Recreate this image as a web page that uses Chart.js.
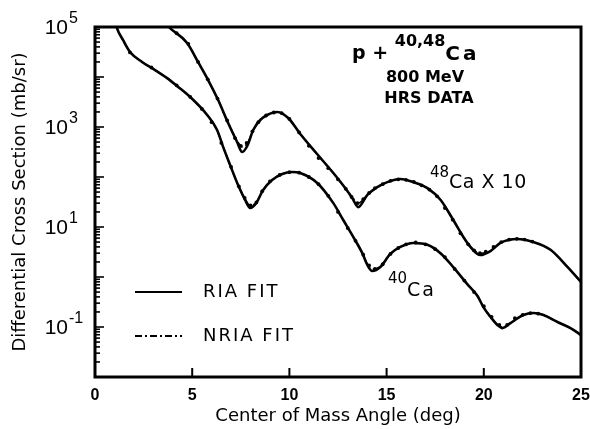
<!DOCTYPE html>
<html><head><meta charset="utf-8">
<script src="https://cdn.jsdelivr.net/npm/chart.js@4.4.0/dist/chart.umd.min.js"></script>
<style>html,body{margin:0;padding:0;background:#fff;}canvas{display:block;}</style>
</head><body>
<canvas id="c" width="590" height="429"></canvas>
<script>
// ---- values (angle in deg, cross section in mb/sr) ----
const xTicks = [0, 5, 10, 15, 20, 25];
const yLabelExponents = [5, 3, 1, -1];

// 48Ca x 10 fits
const angle48 = [3.3, 3.86, 4.74, 5.30, 5.82, 6.33, 6.85, 7.31, 7.57, 7.83, 8.14, 8.50, 8.86, 9.37, 9.94, 10.56, 11.38, 12.26, 12.87, 13.23, 13.54, 14.01, 14.52, 15.04, 15.71, 16.37, 17.10, 17.77, 18.43, 18.95, 19.31, 19.82, 20.34, 20.86, 21.73, 22.55, 23.43, 24.30, 25.0];
const ria48 = [1.6e5, 9.5e4, 4.8e4, 2.0e4, 8.7e3, 3.5e3, 1.2e3, 500, 316, 417, 870, 1380, 1740, 2000, 1510, 724, 302, 120, 60, 38, 25, 44, 63, 79, 91, 79, 60, 35, 13.8, 6.3, 4.0, 2.75, 3.3, 4.8, 5.75, 5.0, 3.5, 1.6, 0.8];
const nria48 = [1.6e5, 9.5e4, 4.8e4, 2.0e4, 8.7e3, 3.5e3, 1.2e3, 540, 400, 470, 870, 1380, 1740, 2000, 1510, 724, 302, 120, 60, 40, 30, 44, 63, 79, 91, 79, 60, 35, 13.8, 6.3, 4.1, 3.0, 3.3, 4.8, 5.75, 5.0, 3.5, 1.6, 0.8];

// 40Ca fits
const angle40 = [0.9, 1.13, 1.44, 1.80, 2.42, 2.94, 3.71, 4.22, 4.89, 5.77, 6.28, 6.59, 6.95, 7.36, 7.72, 7.98, 8.29, 8.65, 9.11, 9.63, 10.14, 10.56, 11.43, 12.26, 12.77, 13.29, 13.75, 14.01, 14.26, 14.68, 15.19, 15.71, 16.37, 17.10, 17.77, 18.43, 19.15, 19.67, 19.98, 20.34, 20.70, 20.96, 21.37, 22.04, 22.55, 23.07, 23.79, 24.46, 25.0];
const ria40 = [2.2e5, 9.5e4, 5.5e4, 3.16e4, 2.0e4, 1.5e4, 9.5e3, 6.6e3, 4.0e3, 1.74e3, 870, 400, 174, 69, 35, 24, 30, 55, 87, 115, 126, 120, 76, 30, 13.8, 6.3, 3.0, 1.74, 1.32, 1.58, 2.9, 4.0, 4.8, 4.4, 3.0, 1.58, 0.72, 0.42, 0.25, 0.16, 0.11, 0.095, 0.12, 0.174, 0.19, 0.174, 0.126, 0.095, 0.069];
const nria40 = [2.2e5, 9.5e4, 5.5e4, 3.16e4, 2.0e4, 1.5e4, 9.5e3, 6.6e3, 4.0e3, 1.74e3, 870, 400, 174, 69, 37, 27, 31, 55, 87, 115, 126, 120, 76, 30, 13.8, 6.3, 3.0, 1.8, 1.45, 1.62, 2.9, 4.0, 4.8, 4.4, 3.0, 1.58, 0.72, 0.42, 0.25, 0.16, 0.11, 0.10, 0.12, 0.174, 0.19, 0.174, 0.126, 0.095, 0.069];

// HRS data points
const dataAngle48 = [4.2, 4.8, 5.3, 5.8, 6.3, 6.8, 7.2, 7.5, 7.8, 8.1, 8.4, 8.8, 9.2, 9.6, 10.0, 10.5, 11.0, 11.5, 12.0, 12.5, 12.9, 13.2, 13.5, 13.8, 14.1, 14.4, 14.8, 15.2, 15.6, 16.0, 16.4, 16.8, 17.2, 17.6, 18.0, 18.4, 18.8, 19.2, 19.5, 19.8, 20.1, 20.5, 20.9, 21.3, 21.7, 22.1, 22.5];
const dataXs48 = [7.5e4, 4.6e4, 2.0e4, 9.0e3, 3.7e3, 1.35e3, 600, 420, 480, 820, 1250, 1700, 1950, 1900, 1450, 780, 420, 240, 150, 90, 58, 40, 30, 36, 48, 60, 72, 84, 90, 88, 80, 68, 56, 41, 24, 14, 7.5, 4.5, 3.4, 3.0, 3.2, 4.0, 5.0, 5.6, 5.8, 5.6, 5.1];
const dataAngle40 = [1.8, 2.9, 4.2, 4.9, 5.5, 6.0, 6.5, 7.0, 7.4, 7.7, 8.0, 8.3, 8.6, 9.0, 9.5, 10.0, 10.5, 11.0, 11.5, 12.0, 12.5, 13.0, 13.4, 13.8, 14.1, 14.4, 14.8, 15.2, 15.6, 16.0, 16.5, 17.0, 17.5, 18.0, 18.5, 19.0, 19.5, 20.0, 20.4, 20.8, 21.2, 21.6, 22.0, 22.4, 22.8];
const dataXs40 = [3.1e4, 1.55e4, 6.8e3, 4.0e3, 2.3e3, 1.25e3, 480, 160, 65, 38, 27, 31, 52, 82, 110, 125, 122, 100, 72, 42, 20, 9.5, 5.3, 2.8, 1.7, 1.45, 1.8, 2.9, 3.8, 4.5, 4.9, 4.5, 3.6, 2.5, 1.45, 0.85, 0.5, 0.26, 0.16, 0.11, 0.11, 0.15, 0.175, 0.19, 0.185];

const pts = (xs, ys) => xs.map((v, i) => ({x: v, y: ys[i]}));

const lineDs = (label, xs, ys, dash, width) => ({
  type: 'line', label, data: pts(xs, ys), borderColor: '#000', borderWidth: width,
  borderDash: dash, pointRadius: 0, fill: false, cubicInterpolationMode: 'monotone', clip: 0
});
const dotDs = (label, xs, ys) => ({
  type: 'scatter', label, data: pts(xs, ys), backgroundColor: '#000', borderColor: '#000',
  pointRadius: 1.9, borderWidth: 0, showLine: false, clip: 0
});

function runs(ctx, x, parts) {
  // parts: [text, font, baseline-middle y, letter spacing]
  for (const [t, f, dy, sp] of parts) {
    ctx.font = f; ctx.letterSpacing = (sp || 0) + 'px';
    ctx.fillText(t, x, dy);
    x += ctx.measureText(t).width;
  }
  ctx.letterSpacing = '0px';
}

const decor = {
  id: 'decor',
  beforeDraw(chart) {
    const c = chart.ctx; c.save(); c.fillStyle = '#fff'; c.fillRect(0, 0, chart.width, chart.height); c.restore();
  },
  afterDraw(chart) {
    const {ctx, chartArea: a, scales: {x, y}} = chart;
    ctx.save();
    ctx.strokeStyle = '#000'; ctx.fillStyle = '#000';
    // frame
    ctx.lineWidth = 3;
    ctx.strokeRect(a.left, a.top, a.right - a.left, a.bottom - a.top);
    // inward y ticks (log)
    ctx.lineWidth = 1.6;
    for (let e = -2; e < 5; e++) {
      for (let k = 1; k < 10; k++) {
        const py = y.getPixelForValue(k * Math.pow(10, e));
        const len = k === 1 ? 9 : 5;
        ctx.beginPath(); ctx.moveTo(a.left, py); ctx.lineTo(a.left + len, py); ctx.stroke();
      }
    }
    // inward x ticks
    ctx.lineWidth = 2;
    for (const v of xTicks) {
      if (v <= x.min || v >= x.max) continue;
      const px = x.getPixelForValue(v);
      ctx.beginPath(); ctx.moveTo(px, a.bottom); ctx.lineTo(px, a.bottom - 9); ctx.stroke();
    }
    // y tick labels 10^n
    ctx.textBaseline = 'middle';
    for (const e of yLabelExponents) {
      const py = y.getPixelForValue(Math.pow(10, e));
      ctx.font = '21px "Liberation Sans"'; ctx.textAlign = 'right';
      ctx.fillText('10', 68, py + 1);
      ctx.textAlign = 'left'; ctx.font = '16px "Liberation Sans"';
      ctx.fillText(e < 0 ? '-' + (-e) : String(e), 69, py - 8);
    }
    ctx.textAlign = 'left';
    // title block
    runs(ctx, 352, [['p + ', 'bold 19px "DejaVu Sans"', 54, 0], ['40,48', 'bold 16px "DejaVu Sans"', 42, 0], ['Ca', 'bold 20px "DejaVu Sans"', 55, 3]]);
    ctx.textAlign = 'center';
    ctx.font = 'bold 16px "DejaVu Sans"';
    ctx.fillText('800 MeV', 425, 78);
    ctx.fillText('HRS DATA', 429, 99);
    ctx.textAlign = 'left';
    // curve labels
    runs(ctx, 430, [['48', '15px "DejaVu Sans"', 173, 0], ['Ca X 10', '19px "DejaVu Sans"', 183, 0.5]]);
    runs(ctx, 388, [['40', '15px "DejaVu Sans"', 279, 0], ['Ca', '19px "DejaVu Sans"', 291, 2]]);
    // legend
    ctx.lineWidth = 1.8;
    ctx.beginPath(); ctx.moveTo(135, 292); ctx.lineTo(182, 292); ctx.stroke();
    ctx.setLineDash([7, 3, 2, 3]);
    ctx.beginPath(); ctx.moveTo(135, 336); ctx.lineTo(182, 336); ctx.stroke();
    ctx.setLineDash([]);
    runs(ctx, 203, [['RIA FIT', '18px "DejaVu Sans"', 292, 2]]);
    runs(ctx, 203, [['NRIA FIT', '18px "DejaVu Sans"', 336, 2]]);
    ctx.restore();
  }
};

new Chart(document.getElementById('c'), {
  type: 'line',
  data: {
    datasets: [
      dotDs('48Ca data', dataAngle48, dataXs48),
      dotDs('40Ca data', dataAngle40, dataXs40),
      lineDs('48Ca RIA FIT', angle48, ria48, [], 2.6),
      lineDs('48Ca NRIA FIT', angle48, nria48, [7, 3, 2, 3], 1.5),
      lineDs('40Ca RIA FIT', angle40, ria40, [], 2.6),
      lineDs('40Ca NRIA FIT', angle40, nria40, [7, 3, 2, 3], 1.5)
    ]
  },
  options: {
    responsive: false, animation: false, devicePixelRatio: 1,
    layout: {padding: {left: 0, top: 27, right: 0, bottom: 0}},
    plugins: {legend: {display: false}, tooltip: {enabled: false}},
    scales: {
      x: {
        type: 'linear', min: 0, max: 25,
        afterFit(s) { s.height = 52; s.paddingRight = 9; s.paddingLeft = 0; },
        afterBuildTicks(s) { s.ticks = xTicks.map(v => ({value: v})); },
        grid: {display: false, drawTicks: false},
        border: {display: false},
        ticks: {color: '#000', font: {family: 'Liberation Sans', size: 16, weight: 'bold'}, padding: 9, maxRotation: 0, autoSkip: false},
        title: {display: true, text: 'Center of Mass Angle (deg)', color: '#000', font: {family: 'DejaVu Sans', size: 18}, padding: {top: 0, bottom: 2}}
      },
      y: {
        type: 'logarithmic', min: 0.01, max: 1e5,
        afterFit(s) { s.width = 95; },
        grid: {display: false, drawTicks: false},
        border: {display: false},
        ticks: {display: false},
        title: {display: true, text: 'Differential Cross Section (mb/sr)', color: '#000', font: {family: 'DejaVu Sans', size: 18}, padding: {top: 10, bottom: 0}}
      }
    }
  },
  plugins: [decor]
});
</script>
</body></html>
